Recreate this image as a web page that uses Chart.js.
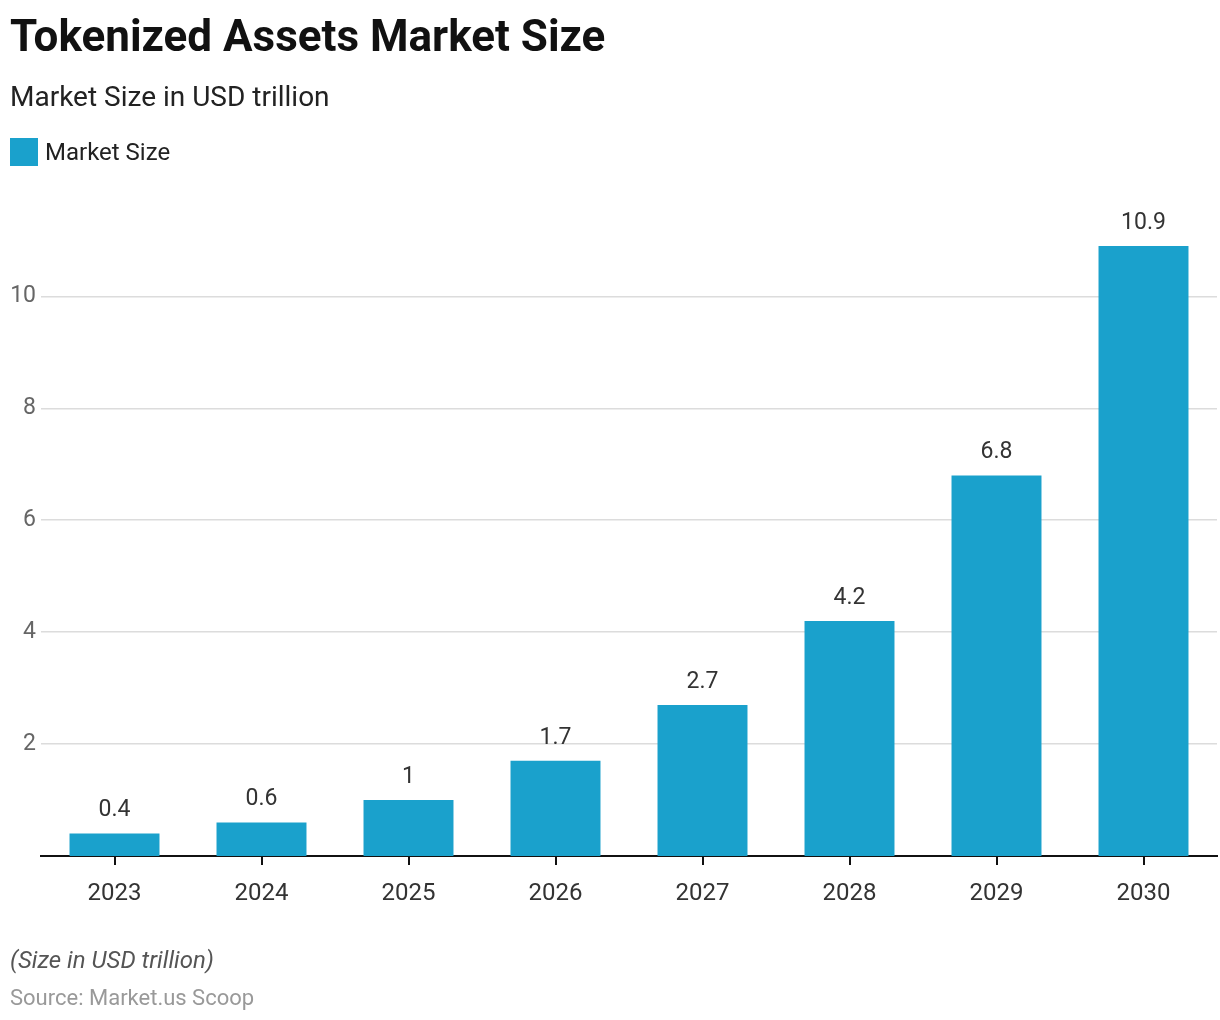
<!DOCTYPE html>
<html>
<head>
<meta charset="utf-8">
<script src="https://cdn.jsdelivr.net/npm/chart.js@4"></script>
<style>
  html,body{margin:0;padding:0;background:#fff;}
  body{width:1220px;height:1020px;position:relative;overflow:hidden;font-family:Roboto,"Noto Sans",sans-serif;}
  #title{position:absolute;left:10px;top:12px;font-size:44px;font-weight:700;color:#111;letter-spacing:0;line-height:48px;}
  #subtitle{position:absolute;left:10px;top:81px;font-size:28px;color:#222;line-height:32px;}
  #legend{position:absolute;left:10px;top:138px;height:28px;display:flex;align-items:center;}
  #legend .box{width:28px;height:28px;background:#1aa1cc;margin-right:7px;}
  #legend .txt{font-size:24px;color:#222;}
  #note{position:absolute;left:10px;top:946px;font-size:24px;font-style:italic;color:#555;line-height:28px;}
  #source{position:absolute;left:10px;top:985px;font-size:22px;color:#999;line-height:26px;}
  #wrap{position:absolute;left:0;top:0;width:1220px;height:1020px;}
</style>
</head>
<body>
<div id="wrap"><canvas id="c"></canvas></div>
<div id="title">Tokenized Assets Market Size</div>
<div id="subtitle">Market Size in USD trillion</div>
<div id="legend"><div class="box"></div><div class="txt">Market Size</div></div>
<div id="note">(Size in USD trillion)</div>
<div id="source">Source: Market.us Scoop</div>
<script>
const categories = ["2023","2024","2025","2026","2027","2028","2029","2030"];
const marketSize = [0.4, 0.6, 1, 1.7, 2.7, 4.2, 6.8, 10.9];
const yTicks = [2, 4, 6, 8, 10];

const valueLabels = {
  id: 'valueLabels',
  afterDatasetsDraw(chart) {
    const ctx = chart.ctx;
    const meta = chart.getDatasetMeta(0);
    ctx.save();
    ctx.font = '23px Roboto, "Noto Sans", sans-serif';
    ctx.fillStyle = '#333';
    ctx.textAlign = 'center';
    ctx.textBaseline = 'middle';
    meta.data.forEach((bar, i) => {
      ctx.fillText(String(marketSize[i]), bar.x, bar.y - 23);
    });
    ctx.restore();
  }
};

new Chart(document.getElementById('c'), {
  type: 'bar',
  data: {
    labels: categories,
    datasets: [{
      label: 'Market Size',
      data: marketSize,
      backgroundColor: '#1aa1cc',
      borderWidth: 0,
      categoryPercentage: 0.8,
      barPercentage: 0.765
    }]
  },
  options: {
    responsive: true,
    maintainAspectRatio: false,
    animation: false,
    layout: { padding: { top: 246, right: 3, left: 0, bottom: 0 } },
    plugins: { legend: { display: false }, tooltip: { enabled: false }, title: { display: false } },
    scales: {
      x: {
        offset: true,
        afterFit(s) { s.height = 164; },
        grid: { offset: false, drawOnChartArea: false, drawTicks: true, tickLength: 9, color: '#111', lineWidth: 2 },
        border: { display: true, color: '#111', width: 2 },
        ticks: { color: '#333', font: { family: 'Roboto', size: 24 }, padding: 15 }
      },
      y: {
        min: 0,
        max: 10.9,
        afterFit(s) { s.width = 41; },
        afterBuildTicks(s) { s.ticks = yTicks.map(v => ({ value: v })); },
        grid: { drawTicks: false, color: '#dcdcdc', lineWidth: 1.5 },
        border: { display: false },
        ticks: { color: '#666', font: { family: 'Roboto', size: 23 }, padding: 5 }
      }
    }
  },
  plugins: [valueLabels]
});
</script>
</body>
</html>
